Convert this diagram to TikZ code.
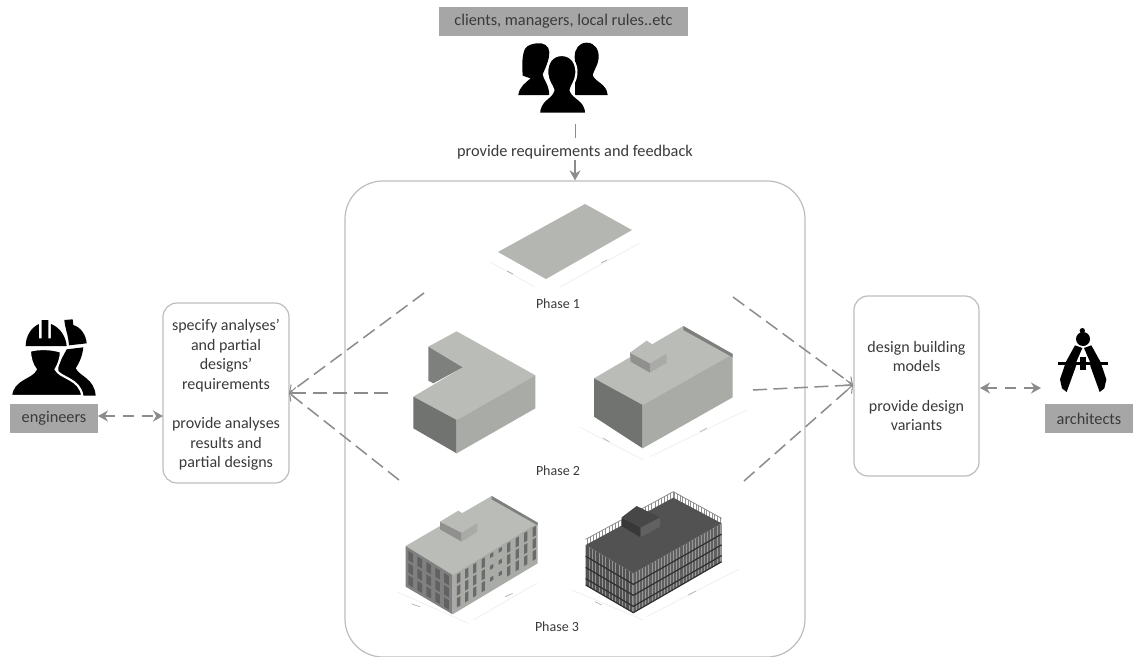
\documentclass[tikz,border=0pt]{standalone}
\usepackage{fontspec}
\setmainfont{Carlito}
\usetikzlibrary{arrows.meta,calc}
\definecolor{lab}{HTML}{A6A6A6}
\definecolor{txt}{HTML}{3A3A3A}
\definecolor{arr}{HTML}{8C8C8C}
\definecolor{plate}{HTML}{B4B6B1}
\definecolor{topf}{HTML}{BABCB8}
\definecolor{sidef}{HTML}{A9ABA7}
\definecolor{darkf}{HTML}{7E807D}
\definecolor{faint}{HTML}{F0F0F0}
\definecolor{outl}{HTML}{BDBDBD}
\tikzset{
  labelbox/.style={fill=lab,inner sep=0pt,text=txt,font=\fontsize{16.3}{18}\selectfont,anchor=center},
  roundbox/.style={draw=outl,line width=1.2pt,rounded corners=14pt,inner sep=0pt,align=center,text=txt,font=\fontsize{16}{19.6}\selectfont},
  plain/.style={text=txt,inner sep=0pt,font=\fontsize{16.3}{18}\selectfont},
  phase/.style={text=txt,inner sep=0pt,font=\fontsize{14}{15}\selectfont},
  dashconn/.style={draw=arr,line width=1.5pt,dash pattern=on 14pt off 6.5pt},
  openend/.style={-{Straight Barb[length=6pt,width=11pt,line width=1pt]}},
  biarrow/.style={draw=arr,line width=1.8pt,dash pattern=on 11pt off 8pt,{Stealth[length=10pt,width=11pt]}-{Stealth[length=10pt,width=11pt]}},
  dim/.style={draw=faint,line width=0.8pt},
  icon/.style={inner sep=0pt,minimum width=#1},
  halo/.style={fill=black,draw=white,line width=2.2pt},
}
\begin{document}
\begin{tikzpicture}[x=1pt,y=-1pt]
\useasboundingbox (0,0) rectangle (1135,656);
\fill[white] (0,0) rectangle (1135,656);

% --- labels and boxes
\node[labelbox,minimum width=249pt,minimum height=29pt] (clients) at (563.5,21.5) {clients, managers, local rules..etc};
\node[labelbox,minimum width=88pt,minimum height=29pt] (engineers) at (54,418.5) {engineers};
\node[labelbox,minimum width=88pt,minimum height=29pt] (architects) at (1089,418.5) {architects};
\node[roundbox,minimum width=126pt,minimum height=180pt,text depth=0pt] (leftbox) at (226,393) {};
\node[inner sep=0pt,align=center,text=txt,font=\fontsize{16}{19.6}\selectfont] (lefttext) at (226,395) {specify analyses’\\and partial\\designs’\\requirements\\[19.6pt]provide analyses\\results and\\partial designs};
\node[roundbox,minimum width=125pt,minimum height=180pt] (rightbox) at (916.5,386) {design building\\models\\[19.6pt]provide design\\variants};
\node[draw=outl,line width=1.2pt,rounded corners=38pt,minimum width=460pt,minimum height=476pt,inner sep=0pt] (main) at (575,419) {};
\node[plain] (req) at (575,152) {provide requirements and feedback};
\node[phase] (ph1) at (558,304) {Phase 1};
\node[phase] (ph2) at (558,471) {Phase 2};
\node[phase] (ph3) at (557,627) {Phase 3};

% --- connectors
\coordinate (reqA) at (575,124);
\coordinate (reqB) at (575,138);
\coordinate (reqC) at (575,160);
\draw[arr,line width=0.9pt] (reqA) -- (reqB);
\draw[arr,line width=1.6pt,-{Stealth[length=10pt,width=11pt]}] (reqC) -- (main.north -| reqC);
\coordinate (eng) at (98,416);
\coordinate (engB) at (163,416);
\draw[biarrow] (eng) -- (engB);
\coordinate (archA) at (980,388);
\coordinate (arch) at (1041,388);
\draw[biarrow] (archA) -- (arch);

\coordinate (lj) at (289,393);
\coordinate (l1) at (424,293);
\coordinate (l2) at (388,393);
\coordinate (l3) at (399,480);
\coordinate (rj) at (853,385);
\coordinate (r1) at (733,297);
\coordinate (r2) at (753,390);
\coordinate (r3) at (744,481);
\draw[dashconn,openend] (l1) -- (lj);
\draw[dashconn,openend] (l2) -- (lj);
\draw[dashconn,openend] (l3) -- (lj);
\draw[dashconn,openend] (r1) -- (rj);
\draw[dashconn,openend] (r2) -- (rj);
\draw[dashconn,openend] (r3) -- (rj);

% --- people icon (clients)
\begin{scope}[shift={(510,35)},scale=1/3]
 \fill[black] (80,25) .. controls (100,22) and (118,32) .. (118,52) .. controls (118,75) and (108,95) .. (98,118) .. controls (100,135) and (116,145) .. (118,180) -- (25,180) .. controls (28,155) and (48,142) .. (62,130) -- (38,122) .. controls (36,90) and (36,60) .. (45,42) .. controls (52,30) and (65,27) .. (80,25) -- cycle;
 \fill[black] (230,23) .. controls (255,23) and (268,45) .. (266,70) .. controls (264,90) and (252,105) .. (248,120) .. controls (255,142) and (290,145) .. (293,180) -- (195,180) -- (195,120) .. controls (205,110) and (194,90) .. (194,65) .. controls (194,42) and (207,23) .. (230,23) -- cycle;
 \path[halo] (155,60) .. controls (185,60) and (202,85) .. (199,118) .. controls (197,140) and (185,150) .. (182,165) .. controls (188,190) and (228,192) .. (229,236) -- (87,236) .. controls (88,192) and (125,190) .. (130,165) .. controls (125,150) and (114,140) .. (112,118) .. controls (109,85) and (125,60) .. (155,60) -- cycle;
\end{scope}
\node[icon=70pt] (peopleicon) at (563,75) {};

% --- engineers icon
\begin{scope}[shift={(5,310)},scale=1/3]
 % back person
 \fill[black] (178,30) -- (203,28) -- (205,45) .. controls (228,52) and (243,75) .. (245,100) -- (192,106) .. controls (190,75) and (180,55) .. (178,30) -- cycle;
 \fill[black] (185,118) -- (235,112) .. controls (232,140) and (222,160) .. (212,175) .. controls (225,200) and (268,205) .. (272,257) -- (232,257) -- (160,190) -- (160,165) -- cycle;
 % front person
 \fill[black] (62,108) .. controls (62,80) and (78,52) .. (102,42) -- (102,85) -- (110,85) -- (110,30) -- (130,30) -- (130,85) -- (138,85) -- (138,42) .. controls (165,52) and (183,80) .. (185,108) -- cycle;
 \path[halo] (75,122) .. controls (100,115) and (140,115) .. (168,125) .. controls (168,145) and (160,165) .. (152,178) .. controls (165,205) and (225,205) .. (232,258) -- (18,258) .. controls (22,205) and (80,205) .. (92,178) .. controls (82,165) and (75,145) .. (75,122) -- cycle;
\end{scope}
\node[icon=85pt] (engicon) at (54,365) {};

% --- compass icon
\begin{scope}[shift={(1040,320)},scale=1/3]
 \fill[black] (127,32) circle (8);
 \fill[black] (129,57) circle (21);
 \fill[black] (105,76) -- (127,84) -- (108,128) -- (108,138) -- (80,216) -- (66,205) -- (60,178) -- (78,125) -- cycle;
 \fill[black] (154,76) -- (132,84) -- (151,128) -- (151,138) -- (179,216) -- (193,205) -- (199,178) -- (181,125) -- cycle;
 \fill[black] (55,126) rectangle (205,134);
 \fill[black] (120,112) rectangle (139,150);
\end{scope}
\node[icon=50pt] (compicon) at (1083,355) {};

% --- phase 1 plate
\fill[plate] (498,252) -- (585,204) -- (632,230) -- (546,279) -- cycle;
\draw[dim] (490,262) -- (535,287) (560,287) -- (640,243);
\draw[black!30,line width=0.7pt] (507,271) -- (513,274) (601,263) -- (607,260);

% --- phase 2 models
\begin{scope}[shift={(390,190)},scale=1/3]
 % L shape
 \fill[topf] (115,470) -- (200,424) -- (436,556) -- (200,690) -- (70,620) -- (218,532) -- cycle;
 \fill[darkf] (115,470) -- (218,532) -- (130,580) -- (115,572) -- cycle;
 \fill[darkf!90!black] (70,620) -- (200,690) -- (200,790) -- (70,715) -- cycle;
 \fill[sidef] (200,690) -- (436,556) -- (436,655) -- (200,790) -- cycle;
 % block with penthouse
 \fill[topf] (612,565) -- (880,408) -- (1028,492) -- (758,645) -- cycle;
 \fill[darkf!90!black] (612,565) -- (758,645) -- (758,775) -- (612,680) -- cycle;
 \fill[sidef] (758,645) -- (1028,492) -- (1028,622) -- (758,775) -- cycle;
 \fill[darkf] (880,408) -- (1028,492) -- (1028,502) -- (880,420) -- cycle;
 \fill[sidef!85!black] (720,488) -- (780,520) -- (780,548) -- (722,515) -- cycle;
 \fill[sidef] (780,520) -- (830,490) -- (830,518) -- (780,548) -- cycle;
 \fill[topf] (720,488) -- (770,452) -- (830,490) -- (780,520) -- cycle;
 \draw[dim] (570,712) -- (760,810) (780,800) -- (1070,660);
 \draw[black!30,line width=0.7pt] (640,745) -- (658,755) (930,725) -- (950,715);
\end{scope}

% --- phase 3 models
\begin{scope}[shift={(390,480)},scale=1/3]
 % building A
 \fill[topf] (47,198) -- (305,48) -- (443,128) -- (188,285) -- cycle;
 \fill[black!50] (47,198) -- (188,285) -- (188,403) -- (47,320) -- cycle;
 \fill[sidef] (188,285) -- (443,128) -- (443,250) -- (188,403) -- cycle;
 \fill[darkf] (305,48) -- (443,128) -- (443,136) -- (305,58) -- cycle;
 \foreach \u/\hh in {.07/28,.165/28,.26/28,.36/28,.46/12,.56/12,.66/28,.76/28,.86/28,.96/28}{
  \foreach \v in {0.08,0.38,0.68}{
   \pgfmathsetmacro\px{188+255*\u-5}
   \pgfmathsetmacro\py{285-157*\u+118*\v}
   \fill[black!58] (\px,\py) -- ++(10,-6) -- ++(0,\hh) -- ++(-10,6) -- cycle;
  }
 }
 \foreach \u in {0.06,0.25,0.44,0.63,0.82}{
  \foreach \v in {0.08,0.38,0.68}{
   \pgfmathsetmacro\px{47+141*\u}
   \pgfmathsetmacro\py{198+87*\u+122*\v}
   \fill[black!62] (\px,\py) -- ++(14,8.6) -- ++(0,28) -- ++(-14,-8.6) -- cycle;
  }
 }
 \fill[sidef!85!black] (150,125) -- (215,158) -- (215,185) -- (150,148) -- cycle;
 \fill[sidef] (215,158) -- (262,128) -- (262,155) -- (215,185) -- cycle;
 \fill[topf] (150,125) -- (205,92) -- (262,128) -- (215,158) -- cycle;
 \draw[dim] (20,335) -- (235,430) (250,420) -- (440,310);
 \draw[black!30,line width=0.7pt] (65,372) -- (90,380) (345,350) -- (368,340);

 % building B
 \fill[black!68] (587,195) -- (730,280) -- (730,398) -- (587,315) -- cycle;
 \fill[black!62] (730,280) -- (995,130) -- (995,245) -- (730,398) -- cycle;
 \foreach \u in {0.07,0.14,...,0.98}{
  \pgfmathsetmacro\pxa{587+143*\u}
  \pgfmathsetmacro\pya{195+85*\u}
  \draw[black!42,line width=0.6pt] (\pxa,\pya) -- ++(0,119);
 }
 \foreach \u in {0.035,0.07,...,0.99}{
  \pgfmathsetmacro\pxa{730+265*\u}
  \pgfmathsetmacro\pya{280-150*\u}
  \draw[black!40,line width=0.6pt] (\pxa,\pya) -- ++(0,116);
 }
 \foreach \v in {0.28,0.56,0.84,1.0}{
  \pgfmathsetmacro\ya{195+120*\v}
  \pgfmathsetmacro\yb{280+118*\v}
  \pgfmathsetmacro\yc{130+115*\v}
  \draw[black!82,line width=1.2pt] (587,\ya) -- (730,\yb) -- (995,\yc);
 }
 % roof lattice
 \draw[black!45,line width=0.8pt] (587,178) -- (850,35) -- (995,115);
 \foreach \u in {0.02,0.055,...,1.0}{
  \pgfmathsetmacro\pxa{587+263*\u}
  \pgfmathsetmacro\pya{178-143*\u}
  \draw[black!45,line width=0.7pt] (\pxa,\pya) -- ++(0,18);
 }
 \foreach \u in {0.03,0.085,...,1.0}{
  \pgfmathsetmacro\pxb{850+145*\u}
  \pgfmathsetmacro\pyb{35+80*\u}
  \draw[black!45,line width=0.7pt] (\pxb,\pyb) -- ++(0,18);
 }
 \fill[black!68] (587,195) -- (850,53) -- (995,130) -- (730,280) -- cycle;
 \fill[black!78] (695,112) -- (752,142) -- (752,172) -- (695,138) -- cycle;
 \fill[black!62] (752,142) -- (810,112) -- (810,140) -- (752,172) -- cycle;
 \fill[black!72] (695,112) -- (740,78) -- (810,112) -- (752,142) -- cycle;
 \draw[dim] (545,330) -- (760,420) (770,410) -- (1045,268);
 \draw[black!30,line width=0.7pt] (615,365) -- (635,375) (895,345) -- (918,333);
\end{scope}
\end{tikzpicture}
\end{document}
